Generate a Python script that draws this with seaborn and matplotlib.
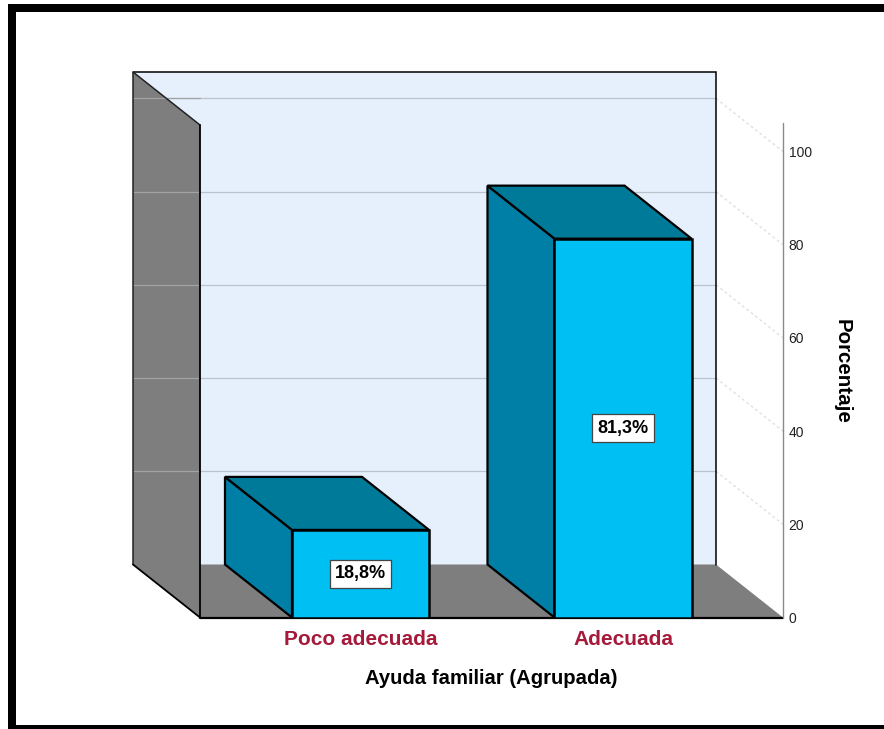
import numpy as np
import pandas as pd
import matplotlib
matplotlib.use("Agg")
import matplotlib.pyplot as plt
from matplotlib.patches import Polygon, Rectangle
import seaborn as sns

categories = ["Poco adecuada", "Adecuada"]
values = [18.8, 81.3]
value_labels = ["18,8%", "81,3%"]
y_ticks = [0, 20, 40, 60, 80, 100]
x_title = "Ayuda familiar (Agrupada)"
y_title = "Porcentaje"

W, H = 884, 729
sns.set_theme(style="white")
plt.rcParams["font.family"] = ["Liberation Sans", "DejaVu Sans"]

fig = plt.figure(figsize=(W / 100, H / 100), dpi=100, facecolor="white")
L, R, B, T = 200, 783, 617.5, 123
ax = fig.add_axes([L / W, 1 - B / H, (R - L) / W, (B - T) / H])

df = pd.DataFrame({"cat": categories, "val": values})
sns.barplot(data=df, x="cat", y="val", order=categories, color="#00BFF3", saturation=1,
            width=0.522, edgecolor="black", linewidth=1.8, zorder=6, ax=ax)

px_per_x = 262.5
px_per_y = 4.66
ax.set_xlim((L - 360.5) / px_per_x, (R - 360.5) / px_per_x)
ax.set_ylim(0, (B - T) / px_per_y)
xl, xr = ax.get_xlim()
dx, dy = -67 / px_per_x, 53 / px_per_y
wall_top = 492.5 / px_per_y


def poly(points, fc, ec="none", lw=0, z=2):
    ax.add_patch(Polygon(points, closed=True, facecolor=fc, edgecolor=ec, linewidth=lw,
                         zorder=z, clip_on=False, joinstyle="miter"))


# back wall, left wall, floor
poly([(xl + dx, dy), (xr + dx, dy), (xr + dx, wall_top + dy), (xl + dx, wall_top + dy)],
     "#E6F0FC", z=1)
poly([(xl, 0), (xl + dx, dy), (xl + dx, wall_top + dy), (xl, wall_top)], "#7E7E7E", z=1.5)

# gridlines
for t in y_ticks[1:]:
    ax.plot([xl + dx, xr + dx], [t + dy, t + dy], color="#BAC2CE", lw=0.9, zorder=1.2, clip_on=False)
    ax.plot([xl + dx, xl], [t + dy, t + dy], color="#A3A3A3", lw=0.9, zorder=1.7, clip_on=False)
    ax.plot([xr + dx, xr], [t + dy, t], color="#E0E0E0", lw=1, ls=(0, (2, 2)), zorder=1.2, clip_on=False)

poly([(xl, 0), (xl + dx, dy), (xr + dx, dy), (xr, 0)], "#7E7E7E", z=2)

# wall edges
ax.plot([xl + dx, xr + dx, xr + dx], [wall_top + dy, wall_top + dy, dy], color="black", lw=1.1,
        zorder=2.5, clip_on=False, solid_joinstyle="miter")
ax.plot([xl, xl + dx, xl + dx], [wall_top, wall_top + dy, dy], color="#222222", lw=1.1,
        zorder=2.5, clip_on=False, solid_joinstyle="miter")
ax.plot([xl + dx, xl, xl], [dy, 0, wall_top], color="black", lw=1.3,
        zorder=2.5, clip_on=False, solid_joinstyle="miter")
ax.plot([xl, xr], [0, 0], color="black", lw=1.6, zorder=2.6, clip_on=False)
ax.plot([xr, xr], [0, (B - T) / px_per_y], color="#8A8A8A", lw=1.0, zorder=2.6, clip_on=False)

# bar depth faces and value labels
for bar, lab in zip(ax.patches[:len(values)], value_labels):
    x0, w, h = bar.get_x(), bar.get_width(), bar.get_height()
    poly([(x0, 0), (x0 + dx, dy), (x0 + dx, h + dy), (x0, h)], "#007FA6", "black", 1.6, z=5)
    poly([(x0, h), (x0 + dx, h + dy), (x0 + w + dx, h + dy), (x0 + w, h)], "#007A99", "black", 1.6, z=5)
    ax.text(x0 + w / 2, h / 2, lab, ha="center", va="center", fontsize=13, fontweight="bold",
            color="black", zorder=8,
            bbox=dict(boxstyle="square,pad=0.3", fc="white", ec="#444444", lw=0.9))

# axes furniture
sns.despine(ax=ax, left=True, bottom=True, right=True, top=True)
ax.patch.set_visible(False)
ax.set_xlabel("")
ax.set_ylabel("")
ax.set_yticks(y_ticks)
ax.yaxis.tick_right()
ax.tick_params(axis="y", length=0, pad=4, labelsize=10, labelcolor="#222222")
ax.tick_params(axis="x", length=0, pad=9, labelsize=15, labelcolor="#A5193A")
for t in ax.get_xticklabels():
    t.set_fontweight("bold")

fig.text(491 / W, 1 - 679 / H, x_title, ha="center", va="center", fontsize=14.6, fontweight="bold", color="black")
fig.text(842 / W, 1 - 371 / H, y_title, ha="center", va="center", rotation=-90, fontsize=14.8,
         fontweight="bold", color="black")

# picture frame: left, top, bottom
for (x, y, w, h) in [(8, 4, 8, 725), (8, 4, W - 8, 8), (8, 725, W - 8, 4)]:
    fig.add_artist(Rectangle((x / W, 1 - (y + h) / H), w / W, h / H, transform=fig.transFigure,
                             fc="black", ec="none"))

fig.savefig("out.png", dpi=100)
